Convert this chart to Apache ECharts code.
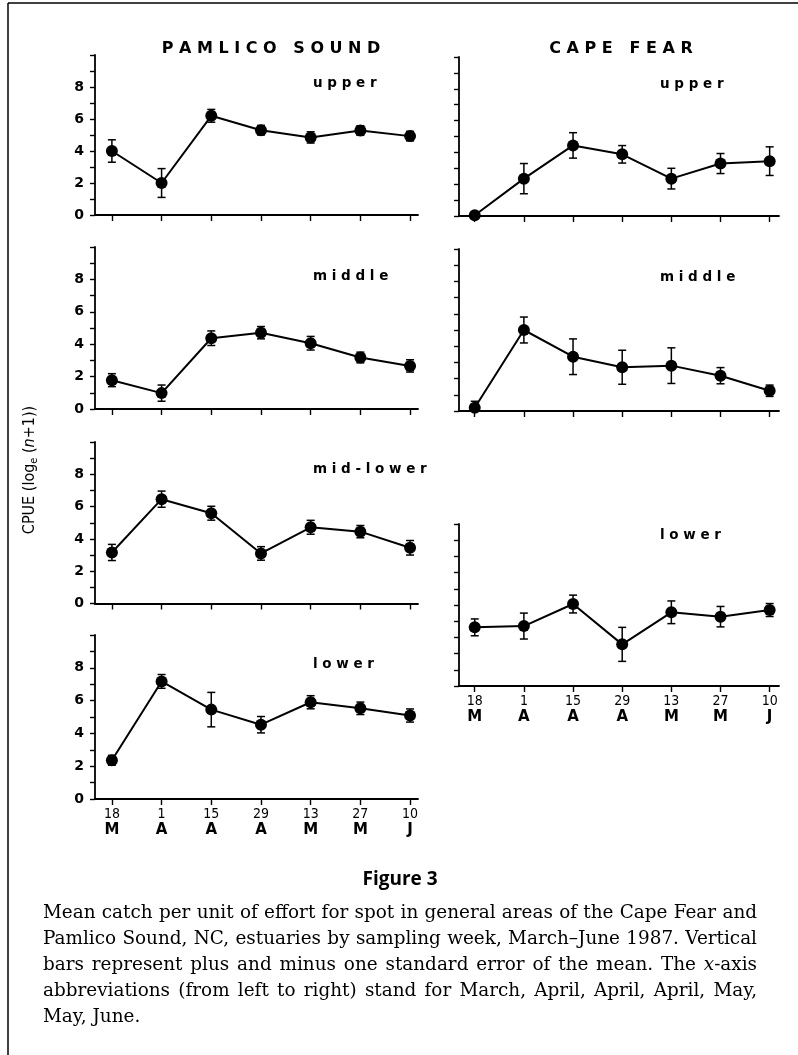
<!DOCTYPE html>
<html><head><meta charset="utf-8">
<script src="https://cdn.jsdelivr.net/npm/echarts@6/dist/echarts.min.js"></script>
<style>html,body{margin:0;padding:0;background:#fff}#c{width:798px;height:1055px}</style>
</head><body><div id="c"></div>
<script>
// ---- data ----
const dates = ['18','1','15','29','13','27','10'];
const months = ['M','A','A','A','M','M','J'];
const yTickLabels = [0,2,4,6,8];

const pamUpper      = [4.0, 2.0, 6.2, 5.3, 4.85, 5.28, 4.93];
const pamUpperSE    = [0.7, 0.9, 0.4, 0.3, 0.35, 0.3, 0.3];
const pamMiddle     = [1.78, 0.98, 4.37, 4.71, 4.06, 3.18, 2.66];
const pamMiddleSE   = [0.4, 0.5, 0.45, 0.38, 0.42, 0.33, 0.38];
const pamMidLower   = [3.16, 6.46, 5.59, 3.1, 4.72, 4.45, 3.45];
const pamMidLowerSE = [0.5, 0.5, 0.43, 0.42, 0.43, 0.38, 0.45];
const pamLower      = [2.36, 7.17, 5.45, 4.53, 5.9, 5.53, 5.09];
const pamLowerSE    = [0.3, 0.42, 1.05, 0.5, 0.4, 0.38, 0.4];
const cfUpper       = [0.05, 2.35, 4.44, 3.88, 2.35, 3.3, 3.45];
const cfUpperSE     = [0.2, 0.95, 0.8, 0.55, 0.65, 0.63, 0.9];
const cfMiddle      = [0.2, 5.0, 3.35, 2.7, 2.8, 2.18, 1.25];
const cfMiddleSE    = [0.4, 0.8, 1.1, 1.05, 1.1, 0.5, 0.35];
const cfLower       = [3.62, 3.7, 5.06, 2.57, 4.55, 4.28, 4.69];
const cfLowerSE     = [0.52, 0.8, 0.55, 1.05, 0.7, 0.63, 0.4];

const titles = ['PAMLICO SOUND', 'CAPE FEAR'];
const areaNames = ['upper','middle','mid-lower','lower'];
const yAxisName = ['CPUE (log', 'e', ' (', 'n', '+1))'];
const figureTitle = 'Figure 3';
const captionLines = [
  'Mean catch per unit of effort for spot in general areas of the Cape Fear and',
  'Pamlico Sound, NC, estuaries by sampling week, March\u2013June 1987. Vertical',
  'bars represent plus and minus one standard error of the mean. The x-axis',
  'abbreviations (from left to right) stand for March, April, April, April, May,',
  'May, June.'
];

// ---- layout ----
const PAM = {left:95, width:323, xmin:-0.34, xmax:6.16, ylab:true, tx:313};
const CF  = {left:459, width:320, xmin:-0.32, xmax:6.19, ylab:false, tx:660};
const panels = [
  {col:PAM, mean:pamUpper, se:pamUpperSE, top:55, h:160, xlab:false, name:areaNames[0], ty:83},
  {col:PAM, mean:pamMiddle, se:pamMiddleSE, top:247, h:162, xlab:false, name:areaNames[1], ty:276},
  {col:PAM, mean:pamMidLower, se:pamMidLowerSE, top:442, h:161.5, xlab:false, name:areaNames[2], ty:469},
  {col:PAM, mean:pamLower, se:pamLowerSE, top:635, h:164, xlab:true, name:areaNames[3], ty:664},
  {col:CF, mean:cfUpper, se:cfUpperSE, top:57, h:159, xlab:false, name:areaNames[0], ty:84},
  {col:CF, mean:cfMiddle, se:cfMiddleSE, top:249, h:162, xlab:false, name:areaNames[1], ty:277},
  {col:CF, mean:cfLower, se:cfLowerSE, top:524, h:162, xlab:true, name:areaNames[3], ty:535}
];

const xIdx = dates.map((d,i)=>i);
const spaced = (s, gap) => s.split(' ').map(w => w.split('').join(' ')).join(gap);

function renderErr(params, api){
  const x = api.value(0), lo = api.value(1), hi = api.value(2);
  const a = api.coord([x, lo]), b = api.coord([x, hi]);
  const w = 4, st = {stroke:'#000', lineWidth:1.5};
  return {type:'group', children:[
    {type:'line', shape:{x1:a[0], y1:a[1], x2:b[0], y2:b[1]}, style:st},
    {type:'line', shape:{x1:a[0]-w, y1:a[1], x2:a[0]+w, y2:a[1]}, style:st},
    {type:'line', shape:{x1:b[0]-w, y1:b[1], x2:b[0]+w, y2:b[1]}, style:st}
  ]};
}

const grids=[], xAxes=[], yAxes=[], series=[], graphics=[];
const axisLS = {color:'#000', width:1.8};
panels.forEach((p,i)=>{
  const c = p.col;
  grids.push({left:c.left, top:p.top, width:c.width, height:p.h, containLabel:false, outerBoundsMode:'none'});
  xAxes.push({gridIndex:i, type:'value', min:c.xmin, max:c.xmax,
    axisLine:{show:true, onZero:false, lineStyle:axisLS},
    axisTick:{show:true, customValues:xIdx, length:6, lineStyle:{color:'#000', width:1.4}},
    axisLabel:{show:p.xlab, customValues:xIdx, margin:7, color:'#000',
      formatter: v => '{n|' + dates[Math.round(v)] + '}\n{m|' + months[Math.round(v)] + '}',
      rich:{
        n:{fontSize:14, fontFamily:"'Liberation Sans Narrow','DejaVu Sans Condensed','Liberation Sans',sans-serif", lineHeight:16, color:'#000'},
        m:{fontSize:15, fontWeight:'bold', fontFamily:"'DejaVu Sans',sans-serif", lineHeight:16, color:'#000'}
      }},
    splitLine:{show:false}});
  yAxes.push({gridIndex:i, type:'value', min:0, max:10, interval:1,
    axisLine:{show:true, onZero:false, lineStyle:axisLS},
    axisTick:{show:true, length:5, lineStyle:{color:'#000', width:1.4}},
    axisLabel:{show:c.ylab, margin:11, color:'#000', fontSize:14, fontWeight:'bold',
      fontFamily:"'DejaVu Sans',sans-serif",
      formatter: v => yTickLabels.indexOf(v) >= 0 ? String(v) : ''},
    splitLine:{show:false}});
  series.push({type:'custom', xAxisIndex:i, yAxisIndex:i, renderItem:renderErr, silent:true, z:2,
    data: p.mean.map((m,j)=>[j, Math.max(0, m - p.se[j]), m + p.se[j]])});
  series.push({type:'line', xAxisIndex:i, yAxisIndex:i, z:3, silent:true,
    data: p.mean.map((m,j)=>[j, m]), symbol:'circle', symbolSize:12,
    itemStyle:{color:'#000'}, lineStyle:{color:'#000', width:2}});
  graphics.push({type:'text', x:c.tx, y:p.ty, style:{text:spaced(p.name,'  '), fontSize:13.5, fontWeight:'bold',
    fontFamily:"'DejaVu Sans',sans-serif", fill:'#000', align:'left', textAlign:'left', verticalAlign:'middle', textVerticalAlign:'middle'}});
});

// titles
[[titles[0], 271], [titles[1], 621]].forEach(([t,x])=>{
  graphics.push({type:'text', x:x, y:49, style:{text:spaced(t,'   '), fontSize:16, fontWeight:'bold',
    fontFamily:"'DejaVu Sans',sans-serif", fill:'#000', align:'center', textAlign:'center', verticalAlign:'middle', textVerticalAlign:'middle'}});
});

// y-axis name
const yFam = "'Liberation Sans Narrow','DejaVu Sans Condensed','Liberation Sans',sans-serif";
graphics.push({type:'text', x:30, y:470, rotation:Math.PI/2, style:{
  text:'{a|'+yAxisName[0]+'}{s|'+yAxisName[1]+'}{a|'+yAxisName[2]+'}{i|'+yAxisName[3]+'}{a|'+yAxisName[4]+'}',
  align:'center', textAlign:'center', verticalAlign:'middle', textVerticalAlign:'middle',
  rich:{
    a:{fontSize:16, fontFamily:yFam, lineHeight:20, fill:'#000', color:'#000'},
    s:{fontSize:11, fontFamily:yFam, lineHeight:11, verticalAlign:'bottom', fill:'#000', color:'#000'},
    i:{fontSize:16, fontFamily:yFam, fontStyle:'italic', lineHeight:20, fill:'#000', color:'#000'}
  }}});

// Figure title
graphics.push({type:'text', x:400, y:880, style:{text:figureTitle, fontSize:19, fontWeight:'bold',
  fontFamily:"'Liberation Sans Narrow','Open Sans','Liberation Sans',sans-serif", fill:'#000',
  align:'center', textAlign:'center', verticalAlign:'middle', textVerticalAlign:'middle'}});

// caption, justified
const capFam = 'DejaVu Serif';
const mctx = document.createElement('canvas').getContext('2d');
function mw(t, fs, italic){ mctx.font = (italic?'italic ':'') + fs + 'px "' + capFam + '"'; return mctx.measureText(t).width; }
const capLeft = 43, capRight = 757, capW = capRight - capLeft;
let maxNat = 0;
captionLines.slice(0,4).forEach(l => { maxNat = Math.max(maxNat, mw(l, 16)); });
const capFs = Math.min(19, 16 * (capW - 4) / maxNat);
function segs(word){ return word === 'x-axis' ? [{t:'x', it:true},{t:'-axis'}] : [{t:word}]; }
function wordW(word){ return segs(word).reduce((s,g)=>s + mw(g.t, capFs, g.it), 0); }
captionLines.forEach((line, li)=>{
  const words = line.split(' ');
  const ws = words.map(wordW);
  const sum = ws.reduce((a,b)=>a+b,0);
  const justify = li < captionLines.length - 1;
  const gap = justify ? (capW - sum) / (words.length - 1) : mw(' ', capFs);
  let x = capLeft;
  const y = 913 + li * 26;
  words.forEach((w, wi)=>{
    let sx = x;
    segs(w).forEach(g=>{
      graphics.push({type:'text', x:sx, y:y, style:{text:g.t, fontSize:capFs, fontFamily:capFam,
        fontStyle:g.it?'italic':'normal', fill:'#000', align:'left', textAlign:'left', verticalAlign:'middle', textVerticalAlign:'middle'}});
      sx += mw(g.t, capFs, g.it);
    });
    x += ws[wi] + gap;
  });
});

// frame lines
graphics.push({type:'line', shape:{x1:8, y1:3, x2:798, y2:3}, style:{stroke:'#000', lineWidth:1.5}});
graphics.push({type:'line', shape:{x1:8, y1:3, x2:8, y2:1055}, style:{stroke:'#000', lineWidth:1.5}});

const chart = echarts.init(document.getElementById('c'), null, {renderer:'canvas'});
chart.setOption({
  animation:false,
  backgroundColor:'#fff',
  grid:grids, xAxis:xAxes, yAxis:yAxes, series:series,
  graphic:{elements:graphics}
});
</script></body></html>
